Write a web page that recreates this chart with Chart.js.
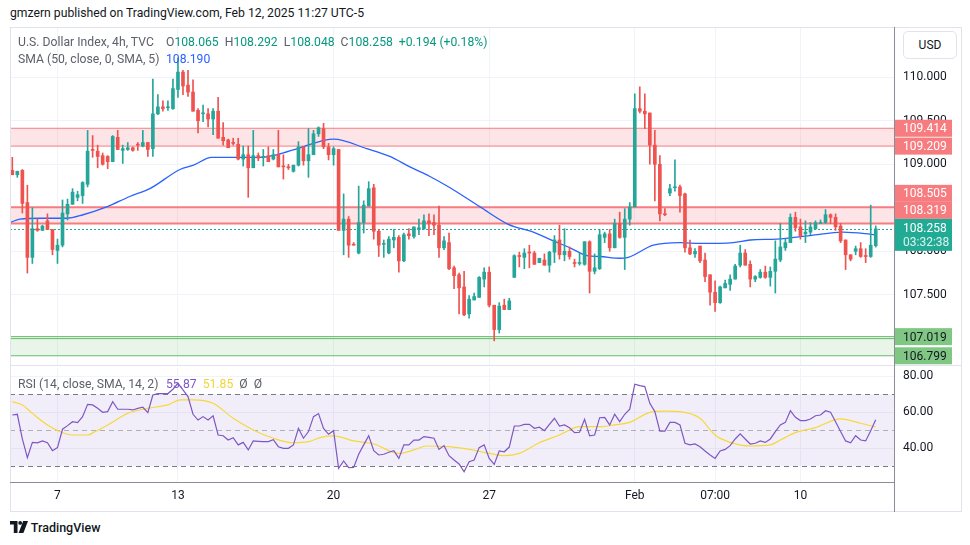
<!DOCTYPE html>
<html lang="en">
<head>
<meta charset="UTF-8" />
<title>U.S. Dollar Index, 4h</title>
<script src="https://cdn.jsdelivr.net/npm/chart.js"></script>
<style>
  body { margin:0; width:970px; height:545px; background:#fff; position:relative; overflow:hidden;
         font-family: Roboto, "Noto Sans", sans-serif; color:#131722; }
  .abs { position:absolute; }
  #pub { left:10px; top:6px; font-size:12.2px; white-space:nowrap; }
  #priceBox { left:0; top:27px; width:970px; height:338px; }
  #rsiBox { left:0; top:364px; width:970px; height:148px; }
  .legend { left:18px; font-size:12.2px; color:#5d606b; white-space:nowrap; }
  .legend .name { display:inline-block; width:148px; }
  .legend .up { color:#089981; }
  .legend .g { margin-left:6px; }
  .hl { height:1px; }
  .vl { width:1px; }
  #usd { left:903px; top:31px; width:52px; height:26px; border:1px solid #e0e3eb; border-radius:5px;
         background:#fff; font-size:12px; line-height:26px; text-align:center; }
  #logo { left:10px; top:520px; font-size:12.5px; font-weight:500; white-space:nowrap; }
</style>
</head>
<body>
  <div id="pub" class="abs">gmzern published on TradingView.com, Feb 12, 2025 11:27 UTC-5</div>

  <div id="priceBox" class="abs"><canvas id="price"></canvas></div>
  <div id="rsiBox" class="abs"><canvas id="rsi"></canvas></div>

  <!-- frame lines -->
  <div class="abs hl" style="left:10px;top:27px;width:952px;background:#e0e3eb"></div>
  <div class="abs vl" style="left:10px;top:27px;height:485px;background:#e0e3eb"></div>
  <div class="abs vl" style="left:961px;top:27px;height:485px;background:#e0e3eb"></div>
  <div class="abs hl" style="left:10px;top:365px;width:952px;background:#e0e3eb"></div>
  <div class="abs hl" style="left:10px;top:511px;width:952px;background:#e0e3eb"></div>
  <div class="abs hl" style="left:10px;top:482px;width:885px;background:#8a8d96"></div>
  <div class="abs vl" style="left:894px;top:27px;height:485px;background:#8a8d96"></div>

  <div id="usd" class="abs">USD</div>

  <div class="abs legend" style="top:35px">
    <span class="name">U.S. Dollar Index, 4h, TVC</span><span>O</span><span class="up">108.065</span><span class="g">H</span><span class="up">108.292</span><span class="g">L</span><span class="up">108.048</span><span class="g">C</span><span class="up">108.258</span><span class="g up">+0.194 (+0.18%)</span>
  </div>
  <div class="abs legend" style="top:52px">
    <span class="name">SMA (50, close, 0, SMA, 5)</span><span style="color:#2962ff">108.190</span>
  </div>
  <div class="abs legend" style="top:377px">
    <span class="name">RSI (14, close, SMA, 14, 2)</span><span style="color:#7e57c2">55.87</span><span class="g" style="color:#f2d53c">51.85</span><span class="g">Ø</span><span class="g">Ø</span>
  </div>

  <div id="logo" class="abs">
    <svg width="18" height="12" viewBox="0 0 18 12" style="vertical-align:-1px">
      <path d="M0 0h7.5v12H3.8V3.6H0z" fill="#131722"/>
      <circle cx="10.2" cy="1.9" r="1.9" fill="#131722"/>
      <path d="M13.2 0H18l-4.6 12H8.6z" fill="#131722"/>
    </svg> TradingView
  </div>

<script>
// === Data ===
const opens = [108.93,108.88,108.93,108.56,107.93,108.26,108.24,108.35,108.25,108.01,
  108.07,108.43,108.54,108.62,108.64,108.77,109.17,109.15,109.10,109.09,
  109.03,109.31,109.16,109.17,109.19,109.23,109.21,109.25,109.18,109.58,
  109.66,109.65,109.64,109.86,110.06,109.91,109.83,109.62,109.58,109.58,
  109.52,109.61,109.31,109.28,109.25,109.23,109.06,109.11,108.96,109.10,
  109.08,109.10,109.06,109.11,108.98,108.97,108.92,108.99,109.20,109.04,
  109.11,109.35,109.41,109.20,109.11,109.17,108.24,108.37,108.08,107.98,
  108.33,108.52,108.73,108.23,108.08,107.98,108.13,108.16,107.89,108.20,
  108.17,108.25,108.26,108.35,108.33,108.30,108.04,108.10,107.81,107.73,
  107.59,107.28,107.44,107.47,107.68,107.76,107.38,107.10,107.38,107.33,
  107.70,107.95,107.93,107.99,107.98,107.87,107.90,107.84,107.99,108.13,
  107.96,108.00,107.87,107.86,107.85,108.11,107.77,107.80,108.16,108.20,
  108.04,108.32,108.16,108.37,108.51,109.64,109.61,109.59,109.22,109.00,
  108.43,108.67,108.73,108.74,108.66,108.04,107.97,108.06,107.90,107.73,
  107.53,107.41,107.58,107.62,107.68,107.84,107.98,107.85,107.68,107.70,
  107.76,107.70,107.77,107.90,108.04,108.10,108.39,108.28,108.20,108.22,
  108.26,108.32,108.33,108.42,108.39,108.29,108.13,107.96,108.00,108.03,
  107.95,107.94,108.065];
const highs = [109.08,108.92,108.94,108.76,108.50,108.37,108.30,108.43,108.25,108.14,
  108.59,108.60,108.72,108.69,108.80,109.39,109.33,109.22,109.13,109.10,
  109.33,109.39,109.22,109.25,109.20,109.25,109.39,109.25,109.98,109.80,
  109.73,109.73,109.98,110.22,110.08,110.08,109.97,109.64,109.68,109.64,
  109.64,109.77,109.48,109.29,109.30,109.30,109.21,109.21,109.39,109.13,
  109.17,109.20,109.17,109.39,109.11,109.00,108.99,109.26,109.20,109.41,
  109.39,109.43,109.47,109.24,109.20,109.17,108.66,108.40,108.10,108.75,
  108.58,108.80,108.77,108.25,108.13,108.17,108.25,108.18,108.21,108.26,
  108.28,108.37,108.42,108.43,108.42,108.52,108.17,108.21,107.83,107.75,
  107.77,107.49,107.52,107.71,107.81,107.82,107.38,107.41,107.45,107.46,
  107.96,107.99,108.03,108.07,108.00,107.92,107.97,108.00,108.18,108.30,
  108.26,108.05,107.91,107.98,108.11,108.12,107.97,108.25,108.22,108.25,
  108.37,108.45,108.49,108.56,109.81,109.89,109.81,109.59,109.39,109.10,
  108.49,108.77,109.05,108.76,108.67,108.13,108.03,108.06,107.98,107.73,
  107.66,107.60,107.67,107.73,107.85,108.07,108.02,107.89,107.72,107.79,
  107.83,107.82,108.12,108.32,108.14,108.43,108.45,108.37,108.35,108.33,
  108.35,108.36,108.48,108.43,108.43,108.32,108.13,107.96,108.06,108.10,
  108.03,108.53,108.292];
const lows = [108.88,108.85,108.44,107.75,107.86,108.23,108.24,108.25,107.96,107.86,
  108.05,108.36,108.54,108.58,108.55,108.74,109.08,108.96,108.99,108.95,
  109.03,109.17,109.01,109.16,109.15,109.16,109.20,109.09,109.09,109.57,
  109.61,109.62,109.63,109.77,109.80,109.78,109.61,109.36,109.49,109.43,
  109.34,109.30,109.22,109.19,109.22,109.05,108.98,108.62,108.96,109.04,
  108.98,109.03,109.05,108.97,108.83,108.94,108.91,108.98,108.99,108.85,
  109.11,109.32,109.18,109.05,108.99,108.24,107.96,107.93,108.07,107.97,
  108.21,108.52,108.14,107.94,107.93,107.97,108.04,107.76,107.88,108.14,
  108.15,108.19,108.25,108.18,108.19,107.93,108.02,107.79,107.57,107.28,
  107.26,107.23,107.44,107.47,107.59,107.36,106.97,107.06,107.33,107.33,
  107.70,107.82,107.80,107.81,107.85,107.87,107.84,107.76,107.87,107.91,
  107.89,107.91,107.82,107.84,107.84,107.52,107.74,107.79,108.10,108.00,
  108.04,108.15,107.79,108.30,108.51,109.59,109.41,109.00,108.58,108.35,
  108.41,108.64,108.69,108.45,107.99,107.96,107.93,107.87,107.65,107.38,
  107.31,107.40,107.58,107.55,107.68,107.82,107.84,107.59,107.65,107.69,
  107.69,107.60,107.52,107.88,108.01,108.10,108.23,108.14,108.10,108.19,
  108.25,108.32,108.32,108.32,108.24,108.10,107.79,107.89,107.96,107.93,
  107.87,107.93,108.048];
const closes = [108.88,108.92,108.55,107.93,108.26,108.24,108.29,108.25,108.02,108.07,
  108.44,108.54,108.68,108.65,108.79,109.15,109.16,109.09,109.00,109.03,
  109.32,109.17,109.18,109.19,109.16,109.22,109.25,109.17,109.58,109.66,
  109.64,109.66,109.87,110.06,109.90,109.83,109.61,109.50,109.59,109.52,
  109.61,109.30,109.27,109.19,109.24,109.06,109.11,108.96,109.10,109.07,
  109.09,109.03,109.11,108.97,108.97,108.96,108.99,109.20,109.04,109.11,
  109.35,109.42,109.20,109.11,109.18,108.24,108.37,108.07,108.07,108.33,
  108.53,108.72,108.23,108.07,108.09,108.14,108.16,107.89,108.19,108.18,
  108.28,108.27,108.35,108.32,108.30,108.04,108.12,107.80,107.72,107.58,
  107.27,107.45,107.48,107.70,107.76,107.38,107.10,107.37,107.33,107.43,
  107.95,107.94,107.98,107.98,107.85,107.92,107.84,107.99,108.13,107.96,
  108.00,107.94,107.86,107.87,108.11,107.77,107.81,108.19,108.20,108.04,
  108.32,108.16,108.37,108.51,109.64,109.61,109.58,109.22,109.00,108.43,
  108.42,108.72,108.74,108.64,108.04,107.97,108.00,107.89,107.71,107.53,
  107.41,107.59,107.63,107.68,107.83,107.98,107.84,107.68,107.71,107.76,
  107.70,107.77,107.91,108.05,108.10,108.39,108.27,108.18,108.22,108.28,
  108.33,108.33,108.42,108.39,108.28,108.12,107.96,107.91,108.03,107.94,
  107.94,108.07,108.258];

// SMA 50 line, read at its turning points (x = bar number)
const smaIdx = [-0.46,1.5,5.5,10.8,14.1,18.8,23.4,27.4,33.4,36.1,39.7,44,49.3,52.7,57.3,
  64,70.6,75.2,79.2,83.2,87.2,93.2,98.8,103.8,107.8,111.1,114.5,117.1,121,122.7,
  127.7,133,137,143.6,147,152.3,158.9,165.5,172];
const smaVals = [108.33,108.37,108.38,108.38,108.42,108.51,108.63,108.72,108.94,108.99,
  109.08,109.08,109.08,109.11,109.19,109.29,109.18,109.09,108.97,108.86,
  108.73,108.51,108.31,108.22,108.12,108.04,107.95,107.94,107.92,107.93,
  108.07,108.10,108.09,108.10,108.13,108.14,108.18,108.22,108.19];

// RSI(14), one value per bar
const rsiVals = [58.5,58.9,45.2,34.8,43.3,43.0,44.1,43.1,38.7,40.4,
  50.6,52.6,54.8,54.3,57.6,64.4,64.1,62.2,60.0,60.4,
  65.9,61.7,61.7,61.7,61.3,62.2,62.8,59.8,69.6,70.4,
  70.4,70.4,72.8,76.1,72.4,68.7,58.9,55.7,57.6,55.7,
  58.0,47.4,47.0,44.6,45.9,41.9,43.3,39.1,44.1,43.9,
  43.7,43.7,44.8,40.9,40.0,40.0,41.9,51.1,45.6,49.3,
  57.6,59.3,51.1,47.8,49.8,28.9,33.0,29.3,29.4,36.7,
  41.9,47.0,38.7,36.3,36.7,37.8,38.7,34.4,41.9,41.9,
  44.6,44.6,46.5,46.1,45.6,39.4,41.5,35.9,33.5,31.3,
  27.0,32.6,33.5,40.4,41.9,34.4,31.1,38.5,38.1,40.7,
  52.4,52.4,53.3,53.3,51.1,51.7,49.8,53.3,56.7,52.4,
  53.0,51.5,48.7,48.9,56.1,46.9,47.4,57.0,57.2,53.0,
  58.9,54.8,58.9,61.7,75.6,74.8,74.3,65.0,60.4,49.6,
  49.6,54.4,54.4,53.0,42.8,41.9,42.4,40.9,38.5,36.3,
  34.4,38.5,39.4,41.5,45.2,48.0,45.2,42.4,42.8,44.1,
  43.3,45.2,49.3,53.0,54.4,60.9,57.2,55.4,55.4,56.3,
  58.1,58.5,60.9,60.0,54.8,49.3,44.1,43.1,47.0,44.6,
  44.1,49.8,55.87];

// RSI-based MA, read at its turning points
const rsiMaIdx = [0,2,4,7,9.5,12,15,16.5,19,23,27,31,33.5,36,40,44,48,52,56,59,61.5,64,68,72,77,
  80,82.5,87,91,95,98,101,105,109,113,117,120,123,127,130,133,137,140,143,147,151,153,156,160,165,169,172];
const rsiMaVals = [65.9,64.1,59.4,53.0,49.3,47.4,47.4,49.3,53.0,59.4,62.2,64.1,66.9,66.9,65.0,
  56.7,50.2,45.6,43.1,43.7,46.1,46.9,44.1,42.4,37.2,39.1,41.3,40.9,39.4,37.2,35.9,37.2,
  43.1,47.4,52.0,52.0,53.0,54.4,60.0,60.7,60.4,56.7,47.4,43.3,41.3,41.9,44.6,48.7,51.5,56.3,53.9,51.85];

const tickIdx = [9, 33, 64, 95, 124, 140, 157];
const tickLabels = ['7', '13', '20', '27', 'Feb', '07:00', '10'];
const priceTicks = [107, 107.5, 108, 108.5, 109, 109.5, 110];
const rsiTicks = [40, 60, 80];
const rsiLevels = [70, 50, 30];

const redZones = [[109.209, 109.414], [108.319, 108.505]];
const greenZone = [106.799, 107.019];
const greenInner = 106.996;
const tagVals = [109.414, 109.209, 108.505, 108.319, 107.019, 106.799];
const tagKinds = ['red', 'red', 'red', 'red', 'green', 'green'];
const lastPrice = 108.258;
const countdown = '03:32:38';

// === Styling ===
const UP = '#26a69a', DOWN = '#ef5350';
const GRID = '#f0f3fa';
const X_MIN = -0.46, X_MAX = 175.64;
Chart.defaults.font.family = 'Roboto';

const colors = opens.map((o, i) => closes[i] >= o ? UP : DOWN);
const wicks = opens.map((o, i) => ({ x: i, y: [lows[i], highs[i]] }));
const bodies = opens.map((o, i) => ({ x: i, y: [o, closes[i]] }));

function hLine(ctx, a, y) {
  ctx.beginPath();
  ctx.moveTo(a.left, y);
  ctx.lineTo(a.right, y);
  ctx.stroke();
}

// zones and last price line behind candles
const zonePlugin = {
  id: 'zones',
  beforeDatasetsDraw(chart) {
    const { ctx, chartArea: a, scales: { y } } = chart;
    ctx.save();
    ctx.beginPath();
    ctx.rect(a.left, a.top, a.width, a.height);
    ctx.clip();
    redZones.forEach(([lo, hi], k) => {
      const y1 = y.getPixelForValue(hi), y2 = y.getPixelForValue(lo);
      ctx.fillStyle = 'rgba(242,54,69,0.13)';
      ctx.fillRect(a.left, y1, a.width, y2 - y1);
      ctx.strokeStyle = '#f77c80';
      ctx.lineWidth = k === 0 ? 1 : 2;
      hLine(ctx, a, y1);
      hLine(ctx, a, y2);
    });
    const g1 = y.getPixelForValue(greenZone[1]), g2 = y.getPixelForValue(greenZone[0]);
    ctx.fillStyle = 'rgba(76,175,80,0.13)';
    ctx.fillRect(a.left, g1, a.width, g2 - g1);
    ctx.strokeStyle = '#66bb6a';
    ctx.lineWidth = 1;
    hLine(ctx, a, g1);
    hLine(ctx, a, y.getPixelForValue(greenInner));
    hLine(ctx, a, g2);

    ctx.strokeStyle = '#22ab94';
    ctx.setLineDash([2, 2]);
    hLine(ctx, a, Math.round(y.getPixelForValue(lastPrice)) + 0.5);
    ctx.restore();
  }
};

// price tags on the right axis
const tagPlugin = {
  id: 'tags',
  afterDraw(chart) {
    const { ctx, chartArea: a, scales: { y } } = chart;
    const H = 17;
    const cur = { y: y.getPixelForValue(lastPrice) };
    cur.top = cur.y - 10; cur.bottom = cur.y + 22;
    const tags = tagVals.map((v, k) => ({ v, kind: tagKinds[k], y: y.getPixelForValue(v) }));
    const above = tags.filter(t => t.v > lastPrice).sort((p, q) => q.y - p.y);
    const below = tags.filter(t => t.v <= lastPrice).sort((p, q) => p.y - q.y);
    let edge = cur.top;
    above.forEach(t => { t.y = Math.min(t.y, edge - H / 2); edge = t.y - H / 2; });
    edge = cur.bottom;
    below.forEach(t => { t.y = Math.max(t.y, edge + H / 2); edge = t.y + H / 2; });

    ctx.save();
    ctx.font = '12px Roboto';
    ctx.textBaseline = 'middle';
    const x0 = a.right + 1, w = 57, tx = a.right + 9;
    tags.forEach(t => {
      ctx.fillStyle = t.kind === 'red' ? '#f77c80' : '#81c784';
      ctx.fillRect(x0, t.y - H / 2, w, H);
      ctx.fillStyle = t.kind === 'red' ? '#ffffff' : '#131722';
      ctx.fillText(t.v.toFixed(3), tx, t.y + 1);
    });
    ctx.fillStyle = '#22ab94';
    ctx.fillRect(x0, cur.top, w, cur.bottom - cur.top);
    ctx.fillStyle = '#ffffff';
    ctx.fillText(lastPrice.toFixed(3), tx, cur.y + 0.5);
    ctx.fillStyle = 'rgba(255,255,255,0.85)';
    ctx.fillText(countdown, tx, cur.y + 14);
    ctx.restore();
  }
};

// RSI band and level lines
const rsiPlugin = {
  id: 'rsiBand',
  beforeDatasetsDraw(chart) {
    const { ctx, chartArea: a, scales: { y } } = chart;
    const top = y.getPixelForValue(rsiLevels[0]), bot = y.getPixelForValue(rsiLevels[2]);
    ctx.save();
    ctx.fillStyle = 'rgba(126,87,194,0.1)';
    ctx.fillRect(a.left, top, a.width, bot - top);
    ctx.setLineDash([5, 4]);
    ctx.lineWidth = 1;
    rsiLevels.forEach((lv, k) => {
      ctx.strokeStyle = k === 1 ? 'rgba(120,123,134,0.55)' : '#787b86';
      hLine(ctx, a, Math.round(y.getPixelForValue(lv)) + 0.5);
    });
    ctx.restore();
  }
};

const xTicks = axis => { axis.ticks = tickIdx.map(v => ({ value: v })); };

new Chart(document.getElementById('price'), {
  type: 'bar',
  data: {
    datasets: [
      { type: 'line', data: smaIdx.map((x, k) => ({ x, y: smaVals[k] })), borderColor: '#2962ff',
        borderWidth: 1.3, pointRadius: 0, cubicInterpolationMode: 'monotone', order: 3 },
      { data: wicks, backgroundColor: colors, barThickness: 1, grouped: false, order: 2 },
      { data: bodies, backgroundColor: colors, barThickness: 3, minBarLength: 1, grouped: false, order: 1 }
    ]
  },
  options: {
    responsive: true, maintainAspectRatio: false, animation: false,
    layout: { padding: { left: 10, right: 0, top: 0, bottom: 0 } },
    plugins: { legend: { display: false }, tooltip: { enabled: false } },
    scales: {
      x: {
        type: 'linear', min: X_MIN, max: X_MAX, offset: false,
        grid: { color: GRID, drawTicks: false, offset: false }, border: { display: false },
        ticks: { display: false },
        afterBuildTicks: xTicks,
        afterFit: s => { s.height = 0; s.paddingLeft = 0; s.paddingRight = 0; }
      },
      y: {
        position: 'right', min: 106.693, max: 110.578,
        grid: { color: GRID, drawTicks: false }, border: { display: false },
        ticks: { padding: 9, color: '#131722', font: { size: 12 }, callback: v => v.toFixed(3) },
        afterBuildTicks: axis => { axis.ticks = priceTicks.map(v => ({ value: v })); },
        afterFit: s => { s.width = 76; s.paddingTop = 0; s.paddingBottom = 0; }
      }
    }
  },
  plugins: [zonePlugin, tagPlugin]
});

new Chart(document.getElementById('rsi'), {
  type: 'line',
  data: {
    datasets: [
      { data: rsiMaIdx.map((x, k) => ({ x, y: rsiMaVals[k] })), borderColor: '#f7d83a',
        borderWidth: 1.2, pointRadius: 0, cubicInterpolationMode: 'monotone', order: 2 },
      { data: rsiVals.map((y, i) => ({ x: i, y })), borderColor: '#7e57c2',
        borderWidth: 1.2, pointRadius: 0, tension: 0, order: 1 }
    ]
  },
  options: {
    responsive: true, maintainAspectRatio: false, animation: false,
    layout: { padding: { left: 10, right: 0, top: 4, bottom: 0 } },
    plugins: { legend: { display: false }, tooltip: { enabled: false } },
    scales: {
      x: {
        type: 'linear', min: X_MIN, max: X_MAX,
        grid: { color: GRID, drawTicks: false }, border: { display: false },
        ticks: { padding: 7, color: '#131722', font: { size: 12 }, maxRotation: 0, autoSkip: false,
                 callback: v => tickLabels[tickIdx.indexOf(v)] ?? '' },
        afterBuildTicks: xTicks,
        afterFit: s => { s.height = 30; s.paddingLeft = 0; s.paddingRight = 0; }
      },
      y: {
        position: 'right', min: 21.3, max: 84.6,
        grid: { color: GRID, drawTicks: false }, border: { display: false },
        ticks: { padding: 9, color: '#131722', font: { size: 12 }, callback: v => v.toFixed(2) },
        afterBuildTicks: axis => { axis.ticks = rsiTicks.map(v => ({ value: v })); },
        afterFit: s => { s.width = 76; s.paddingTop = 0; s.paddingBottom = 0; }
      }
    }
  },
  plugins: [rsiPlugin]
});
</script>
</body>
</html>
